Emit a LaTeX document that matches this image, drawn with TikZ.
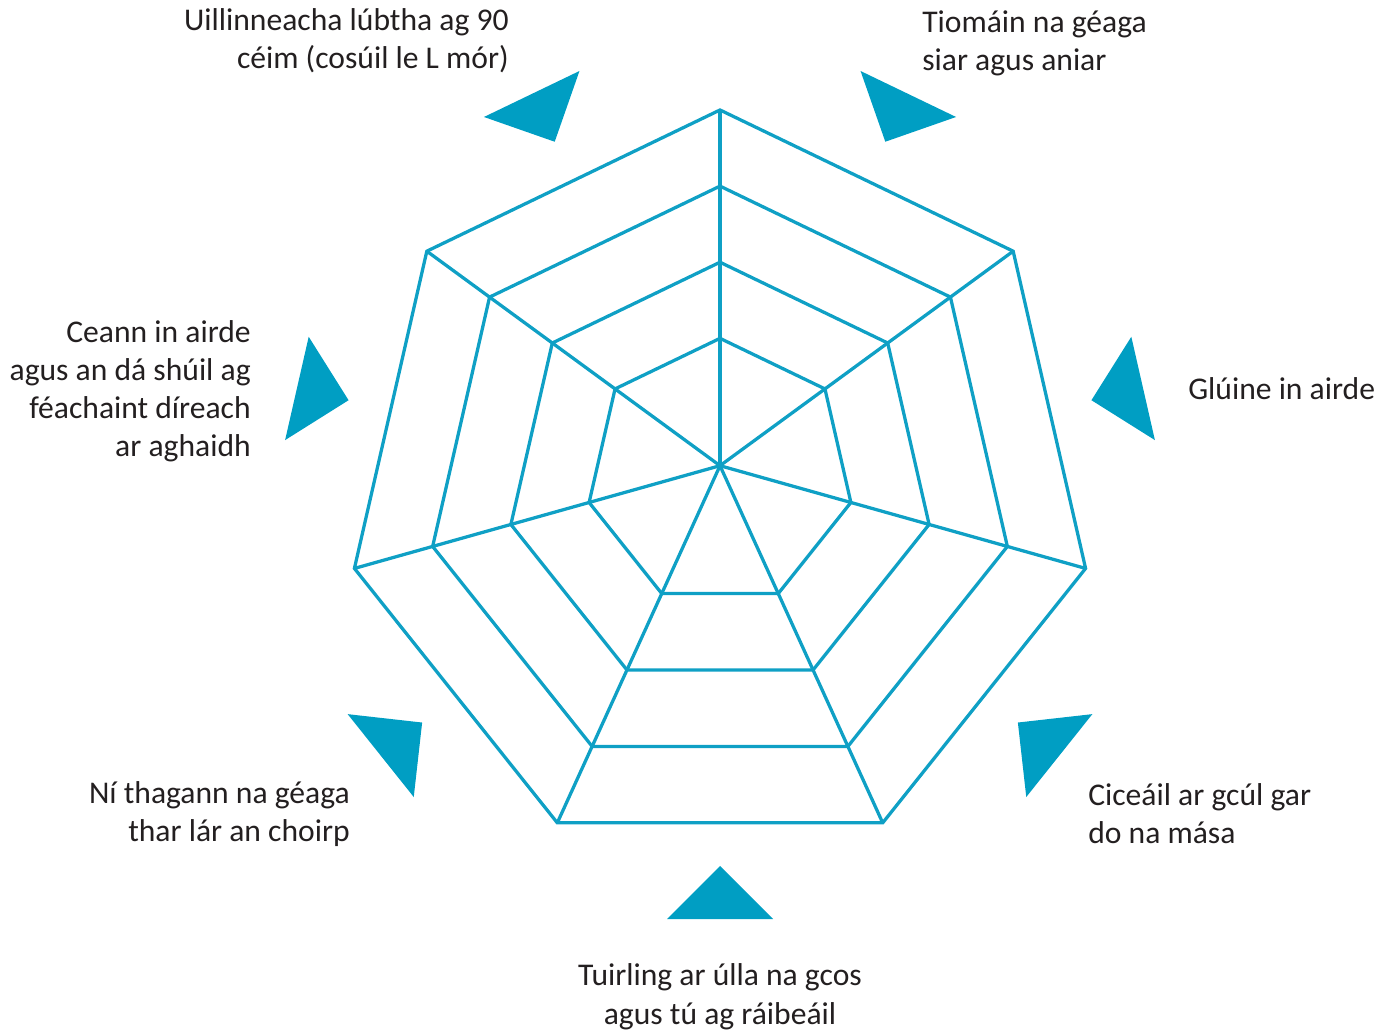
\documentclass[tikz,border=0pt]{standalone}
\usepackage{fontspec}
\setmainfont{Carlito}
\usetikzlibrary{calc}
\definecolor{tealA}{HTML}{009EC3}
\definecolor{tealL}{HTML}{0FA0C5}
\definecolor{ink}{HTML}{231F20}
\begin{document}
\begin{tikzpicture}[x=0.75pt,y=0.75pt,
  web/.style={draw=tealL,line width=2.45pt,line join=miter},
  marker/.style={fill=tealA},
  lbl/.style={font=\fontsize{23.7}{28.7}\selectfont, text=ink, inner sep=0pt}]
\useasboundingbox (0,0) rectangle (1392,1032);
\coordinate (C) at (720,547);
\coordinate (H) at (720,566.3);
\foreach \i in {0,...,6} {
  \coordinate (V\i) at ($(C)+({90+\i*360/7}:375)$);
}
\foreach \s/\n in {0.358/1,0.572/2,0.786/3,1/4}{
  \foreach \i in {0,...,6} {\coordinate (L\n-\i) at ($(H)!\s!(V\i)$);}
  \draw[web] (L\n-0) -- (L\n-1) -- (L\n-2) -- (L\n-3) -- (L\n-4) -- (L\n-5) -- (L\n-6) -- cycle;
}
\foreach \i in {0,...,6} {\draw[web] (H) -- (V\i);}
\foreach \i in {0,...,6}{
  \pgfmathsetmacro\a{270+\i*360/7}
  \coordinate (T\i a) at ($(C)+(\a:381)$);
  \coordinate (T\i b) at ($(C)+(\a:434)+(\a+90:53)$);
  \coordinate (T\i c) at ($(C)+(\a:434)+(\a-90:53)$);
  \fill[marker] (T\i a) -- (T\i b) -- (T\i c) -- cycle;
}
\node[lbl, align=right, anchor=base east] (tl) at (509,963.5) {Uillinneacha lúbtha ag 90\\céim (cosúil le L mór)};
\node[lbl, align=left, anchor=base west] (tr) at (922,961) {Tiomáin na géaga\\siar agus aniar};
\node[lbl, align=left, anchor=base west] (r) at (1188,632) {Glúine in airde};
\node[lbl, align=left, anchor=base west] (br) at (1088,188.7) {Ciceáil ar gcúl gar\\do na mása};
\node[lbl, align=center, anchor=base] (b) at (720,8) {Tuirling ar úlla na gcos\\agus tú ag ráibeáil};
\node[lbl, align=right, anchor=base east] (bl) at (350,190.7) {Ní thagann na géaga\\thar lár an choirp};
\node[lbl, align=right, anchor=base east] (l) at (251,575) {Ceann in airde\\agus an dá shúil ag\\féachaint díreach\\ar aghaidh};
\end{tikzpicture}
\end{document}
